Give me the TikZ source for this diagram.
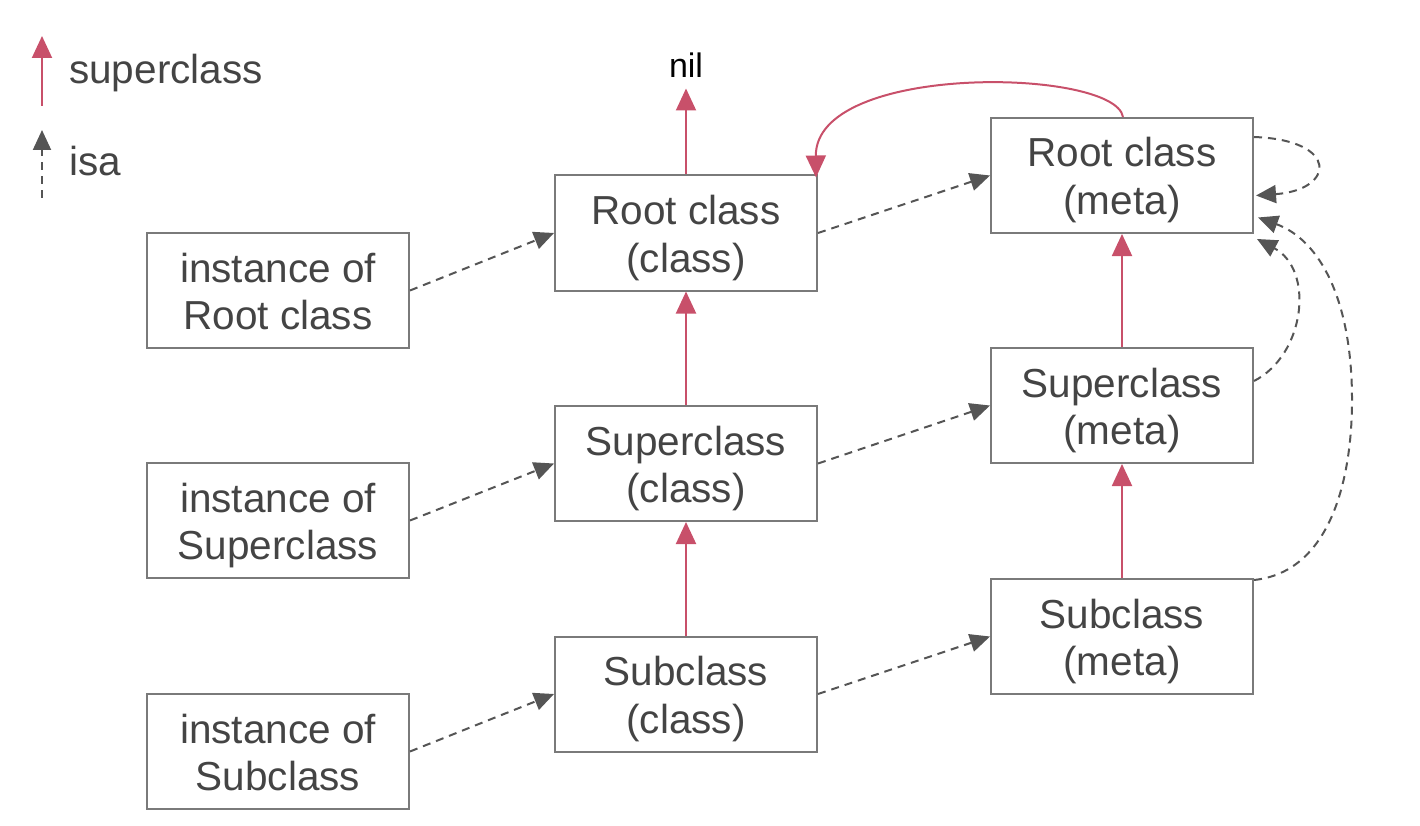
\documentclass[tikz,border=0pt]{standalone}
\usepackage{fontspec}
\setmainfont{Liberation Sans}
\usetikzlibrary{arrows.meta}
\definecolor{txt}{HTML}{444444}
\definecolor{boxc}{HTML}{7A7A7A}
\definecolor{redc}{HTML}{C8506A}
\definecolor{isac}{HTML}{555555}
\begin{document}
\begin{tikzpicture}[x=1pt,y=-1pt,
  box/.style={draw=boxc,line width=2pt,minimum width=262pt,minimum height=115pt,
    inner sep=0pt,align=center,text=txt,font=\fontsize{40.5}{47.5}\selectfont,
    text height=87pt,text depth=9pt},
  lbl/.style={inner sep=0pt,text=txt,font=\fontsize{40.5}{48}\selectfont},
  sup/.style={draw=redc,line width=2pt,-{Triangle[length=22pt,width=20pt]},fill=none},
  isa/.style={draw=isac,line width=2pt,dash pattern=on 8pt off 6pt,
    -{Triangle[length=20pt,width=18pt]}}]
\useasboundingbox (0,0) rectangle (1420,826);
% legend
\coordinate (ls0) at (42,106);
\coordinate (ls1) at (42,36);
\draw[sup] (ls0) -- (ls1);
\node[lbl,anchor=base west] (lsup) at (69,84) {superclass};
\coordinate (li0) at (42,198);
\coordinate (li1) at (42,130);
\draw[isa] (li0) -- (li1);
\node[lbl,anchor=base west] (lisa) at (69,176) {isa};
% boxes
\node[box] (i1) at (278,290.5) {instance of\\Root class};
\node[box] (i2) at (278,520.5) {instance of\\Superclass};
\node[box] (i3) at (278,751.5) {instance of\\Subclass};
\node[box] (c1) at (686,233) {Root class\\(class)};
\node[box] (c2) at (686,463.5) {Superclass\\(class)};
\node[box] (c3) at (686,694) {Subclass\\(class)};
\node[box] (m1) at (1122,175.5) {Root class\\(meta)};
\node[box] (m2) at (1122,405.5) {Superclass\\(meta)};
\node[box] (m3) at (1122,636.5) {Subclass\\(meta)};
\node[inner sep=0pt,font=\fontsize{34}{40}\selectfont,anchor=base] (nil) at (686,78) {nil};
% superclass arrows
\draw[sup] (c1.north) -- ++(0,-86);
\draw[sup] (c2.north) -- (c1.south);
\draw[sup] (c3.north) -- (c2.south);
\draw[sup] (m2.north) -- (m1.south);
\draw[sup] (m3.north) -- (m2.south);
\draw[sup] ([xshift=1pt]m1.north) .. controls (1115,68) and (815,62) .. ([xshift=-2pt,yshift=-3pt]c1.north east);
% isa arrows
\draw[isa] (i1.east) -- (c1.west);
\draw[isa] (i2.east) -- (c2.west);
\draw[isa] (i3.east) -- (c3.west);
\draw[isa] (c1.east) -- (m1.west);
\draw[isa] (c2.east) -- (m2.west);
\draw[isa] (c3.east) -- (m3.west);
\draw[isa] ([yshift=-20pt]m1.north east) .. controls (1340,140) and (1335,190) .. ([xshift=2pt,yshift=-20pt]m1.east);
\draw[isa] ([yshift=-34pt]m2.north east) .. controls (1305,355) and (1315,270) .. ([xshift=3pt,yshift=-5pt]m1.south east);
\draw[isa] ([yshift=-2pt]m3.north east) .. controls (1330,572) and (1352,480) .. (1352,400)
   .. controls (1352,300) and (1320,240) .. ([xshift=4pt,yshift=-42pt]m1.east);
\end{tikzpicture}
\end{document}
